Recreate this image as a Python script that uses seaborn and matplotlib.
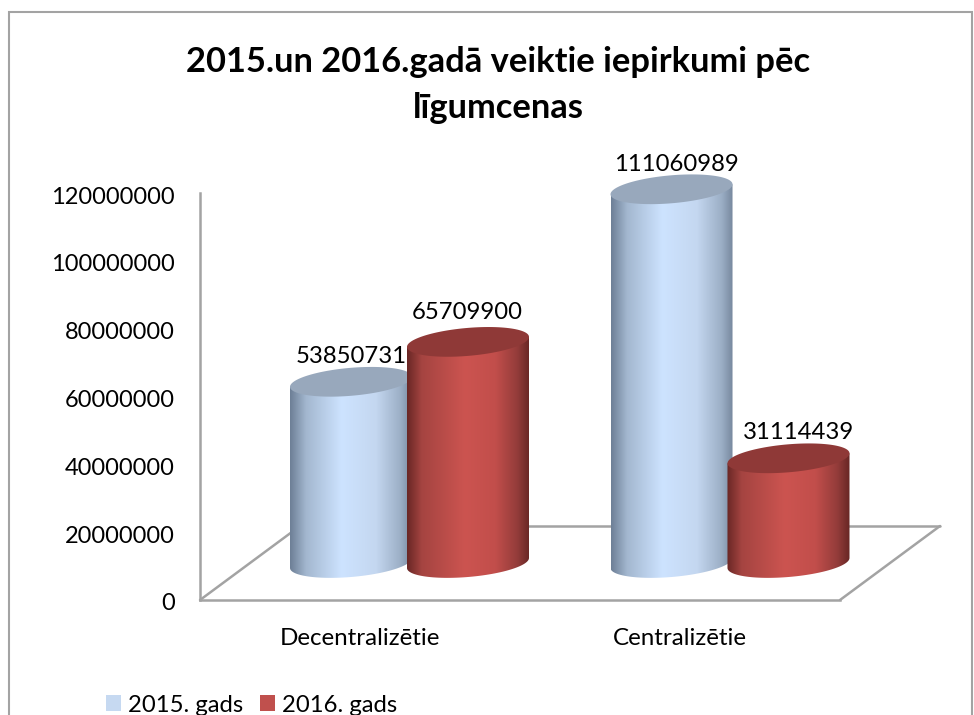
import numpy as np
import pandas as pd
import matplotlib
matplotlib.use("Agg")
import matplotlib.pyplot as plt
import matplotlib.transforms as mtransforms
import seaborn as sns
from matplotlib.colors import LinearSegmentedColormap
from matplotlib.lines import Line2D
from matplotlib.patches import Patch, PathPatch, Rectangle
from matplotlib.path import Path

categories = ["Decentralizētie", "Centralizētie"]
series_names = ["2015. gads", "2016. gads"]
values_2015 = [53850731, 111060989]
values_2016 = [65709900, 31114439]
y_ticks = [0, 20000000, 40000000, 60000000, 80000000, 100000000, 120000000]
title = "2015.un 2016.gadā veiktie iepirkumi pēc\nlīgumcenas"

W, H = 974, 715
GREY = "#a3a3a3"
LEGEND_COLORS = ["#c6d9f1", "#c0504d"]
TOP_COLORS = ["#98a8bc", "#8f3937"]
GRADIENTS = [
    [(0, "#6d7f96"), (0.13, "#a3b7cf"), (0.42, "#cde3ff"), (0.7, "#c4d7f0"), (0.9, "#9cafc6"), (1, "#74859b")],
    [(0, "#692725"), (0.12, "#a54441"), (0.47, "#cc5450"), (0.72, "#c24e4b"), (0.9, "#933c3a"), (1, "#672624")],
]
# label nudges in pixels, the 3D chart did not centre them exactly
LABEL_DX = [[0, 5], [-1, 10]]
LABEL_DY = [25, 25, 29, 26]


def px_axes(fig, left, top, right, bottom):
    """Axes placed by pixel edges, y counted from the top of the image."""
    return fig.add_axes([left / W, 1 - bottom / H, (right - left) / W, (bottom - top) / H])


sns.set_theme(style="white")
plt.rcParams["font.family"] = ["Lato", "DejaVu Sans"]

fig = plt.figure(figsize=(W / 100, H / 100), dpi=100)
fig.add_artist(Rectangle((8.5 / W, -0.02), 963 / W, 1.02 - 12 / H, transform=fig.transFigure,
                         fill=False, edgecolor=GREY, linewidth=1.5))

# frame axes: value axis and floor of the 3D box
frame = px_axes(fig, 200, 193, 840, 600)
frame.set_xlim(-0.5, 1.5)
frame.set_ylim(0, 120000000)
frame.set_xticks([0, 1], categories)
frame.set_yticks(y_ticks, [str(v) for v in y_ticks])
frame.tick_params(axis="x", length=0, pad=20, labelsize=17.4, labelcolor="black")
frame.tick_params(axis="y", length=0, pad=18, labelsize=17, labelcolor="black")
down = mtransforms.ScaledTranslation(0, -2 / 100, fig.dpi_scale_trans)
for label in frame.get_yticklabels():
    label.set_transform(label.get_transform() + down)
sns.despine(ax=frame, top=True, right=True)
for side in ["left", "bottom"]:
    frame.spines[side].set_color(GREY)
    frame.spines[side].set_linewidth(1.8)
dx, dy = 100 / 640, 74 / 407
for xs, ys in [([0, dx], [0, dy]), ([1, 1 + dx], [0, dy]), ([dx, 1 + dx], [dy, dy])]:
    frame.add_line(Line2D(xs, ys, transform=frame.transAxes, color=GREY, linewidth=1.8, clip_on=False))

# bars sit on their own axes, the cylinders stand on the middle of the floor
bars = px_axes(fig, 249.25, 159.2, 890.25, 563)
bars.patch.set_alpha(0)
df = pd.DataFrame({
    "category": categories * 2,
    "series": [series_names[0]] * 2 + [series_names[1]] * 2,
    "value": values_2015 + values_2016,
})
sns.barplot(data=df, x="category", y="value", hue="series", ax=bars, width=0.73, gap=-0.043,
            palette=LEGEND_COLORS, legend=False)
bars.set_xlim(-0.5, 1.5)
bars.set_ylim(0, 120000000)
bars.axis("off")

y_per_px = 120000000 / 403.8
b = 14 * y_per_px
s = 5 * y_per_px
t = np.linspace(0, 2 * np.pi, 121)
n = 0
for c, container in enumerate(bars.containers):
    cmap = LinearSegmentedColormap.from_list(f"cyl{c}", GRADIENTS[c])
    for k, bar in enumerate(container):
        bar.set_alpha(0)
        a = bar.get_width() / 2
        cx = bar.get_x() + a
        h = bar.get_height()
        z = 3 + k * 10 + c
        # body: back of the top rim, then the front half of the base ellipse
        arc = np.linspace(np.pi, 2 * np.pi, 60)
        xb = cx + a * np.cos(arc)
        yb = s * np.cos(arc) + b * np.sin(arc)
        body = np.vstack([[cx - a, h - s], np.column_stack([xb, yb]), [cx + a, h + s], [cx - a, h - s]])
        clip = PathPatch(Path(body), transform=bars.transData, facecolor="none", edgecolor="none",
                         clip_on=False)
        bars.add_patch(clip)
        im = bars.imshow(np.linspace(0, 1, 256)[None, :], cmap=cmap, aspect="auto", zorder=z,
                         extent=[cx - a, cx + a, -2 * b, h + 2 * s], interpolation="bilinear")
        # images clip to the axes box unless given a wider one, the base hangs below it
        im.set_clip_box(fig.bbox)
        im.set_clip_path(clip)
        # top face
        top = np.column_stack([cx + a * np.cos(t), h + s * np.cos(t) + b * np.sin(t)])
        bars.add_patch(PathPatch(Path(top), facecolor=TOP_COLORS[c], edgecolor="none", zorder=z + 0.5,
                                 clip_on=False))
        bars.annotate(str(int(h)), (cx, h), xytext=(LABEL_DX[c][k], LABEL_DY[n]), textcoords="offset pixels",
                      ha="center", va="center", fontsize=17.2, color="black", zorder=40,
                      annotation_clip=False)
        n += 1
bars.set_xlim(-0.5, 1.5)
bars.set_ylim(0, 120000000)

fig.text(498 / W, 1 - 85 / H, title, ha="center", va="center", fontsize=24.8, fontweight="bold",
         color="black", linespacing=1.55)

handles = [Patch(facecolor=col, edgecolor="none", label=name) for col, name in zip(LEGEND_COLORS, series_names)]
fig.legend(handles=handles, loc="center left", bbox_to_anchor=(84 / W, 1 - 705 / H), ncols=2, frameon=False,
           fontsize=17.2, handlelength=0.63, handleheight=0.63, handletextpad=0.3, columnspacing=0.7,
           labelcolor="black")

fig.savefig("out.png", dpi=100)
